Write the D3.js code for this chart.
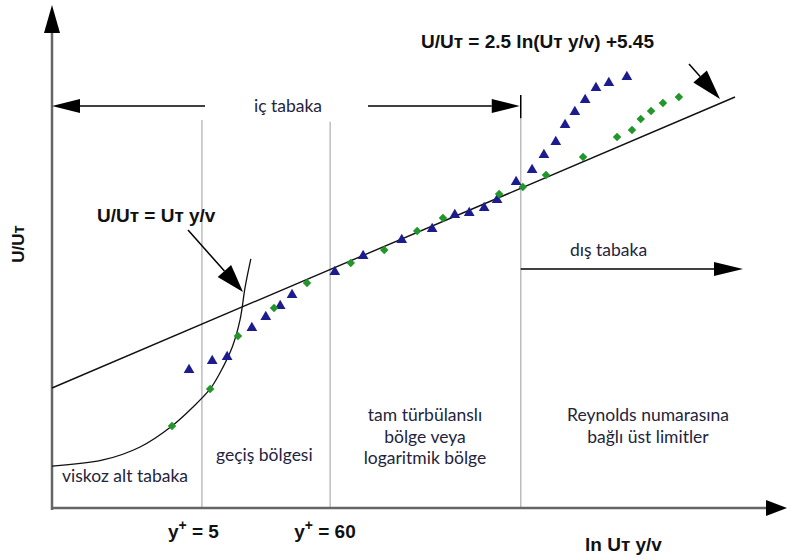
<html lang="tr">
<head>
<meta charset="UTF-8">
<title>Duvar kanunu</title>
<script src="https://cdn.jsdelivr.net/npm/d3@7"></script>
<style>
  body { margin: 0; background: #fff; }
  svg { display: block; }
  .bold { font-family: "Liberation Sans", Arial, sans-serif; font-weight: bold; fill: #111; }
  .zone { font-family: Lato, "Open Sans", sans-serif; fill: #24243c; }
</style>
</head>
<body>
<svg id="chart"></svg>
<script>
// x = ln(U_tau y / v) measured from the axis origin, y = U/U_tau measured from the axis origin
var triX = [2.66, 3.11, 3.40, 3.88, 4.15, 4.43, 4.66, 5.49, 6.04, 6.79, 7.38, 7.82, 8.10, 8.39, 8.64,
            9.01, 9.32, 9.55, 9.78, 9.96, 10.15, 10.35, 10.56, 10.81, 11.16];
var triY = [15.72, 16.75, 17.20, 20.51, 21.76, 23.01, 24.27, 26.89, 28.71, 30.53, 31.78, 33.38, 33.61, 34.18, 35.09,
            37.14, 38.51, 40.21, 41.70, 43.63, 45.11, 46.48, 47.85, 48.42, 49.10];

var diaX = [2.33, 3.07, 3.61, 4.31, 4.95, 5.80, 6.45, 7.09, 7.59, 8.68, 9.14, 9.59, 10.31, 10.97, 11.26,
            11.43, 11.63, 11.86, 12.17];
var diaY = [9.34, 13.56, 19.59, 22.78, 25.63, 27.91, 29.39, 31.56, 33.04, 35.77, 36.57, 37.94, 39.99, 42.26, 43.06,
            44.32, 45.23, 46.14, 46.82];

// log law line U/Ut = 2.5 ln(Ut y/v) + 5.45 (end points)
var logX = [0, 13.26];
var logY = [13.67, 46.82];

// viscous sublayer U/Ut = Ut y/v (as drawn)
var viscX = [0, 0.99, 1.71, 2.33, 2.74, 3.07, 3.26, 3.50, 3.65, 3.75, 3.86];
var viscY = [4.78, 5.47, 6.95, 9.34, 11.51, 13.56, 15.38, 18.34, 21.42, 25.18, 28.37];

// region boundaries
var bounds = [2.91, 5.40, 9.10];
var boundTop = [44.2, 44.0, 44.4];
var boundLabels = ["5", "60", ""];

var width = 787, height = 559;
var svg = d3.select("#chart").attr("width", width).attr("height", height);

var x = d3.scaleLinear().domain([0, 14.23]).range([52, 785]);
var y = d3.scaleLinear().domain([0, 56.73]).range([508, 10]);

function arrow(x1, y1, x2, y2, len, hw, color, sw) {
  var a = Math.atan2(y2 - y1, x2 - x1);
  var bx = x2 - len * Math.cos(a), by = y2 - len * Math.sin(a);
  svg.append("line")
    .attr("x1", x1).attr("y1", y1).attr("x2", bx).attr("y2", by)
    .attr("stroke", color).attr("stroke-width", sw);
  var px = -Math.sin(a) * hw, py = Math.cos(a) * hw;
  svg.append("path")
    .attr("d", "M" + x2 + "," + y2 + "L" + (bx + px) + "," + (by + py) + "L" + (bx - px) + "," + (by - py) + "Z")
    .attr("fill", "#000");
}

/* region boundaries */
bounds.forEach(function(b, i) {
  svg.append("line")
    .attr("x1", x(b)).attr("x2", x(b))
    .attr("y1", y(boundTop[i])).attr("y2", y(0))
    .attr("stroke", "#bdbdbd").attr("stroke-width", 1.5);
  if (boundLabels[i]) {
    var t = svg.append("text").attr("class", "bold").attr("font-size", 19)
      .attr("x", x(b) - 34 - i * 2).attr("y", 538);
    t.append("tspan").text("y");
    t.append("tspan").attr("dy", -8).attr("font-size", 14).text("+");
    t.append("tspan").attr("dy", 8).text(" = " + boundLabels[i]);
  }
});
// black tick of the inner layer limit
svg.append("line")
  .attr("x1", x(bounds[2])).attr("x2", x(bounds[2]))
  .attr("y1", 95).attr("y2", y(boundTop[2]))
  .attr("stroke", "#000").attr("stroke-width", 1.5);

/* axes */
arrow(x(0), y(0) + 2, x(0), 5, 28, 8, "#666", 2.5);
arrow(x(0), y(0), 787, y(0), 21, 8, "#666", 2.5);

/* lines */
var line = d3.line().x(function(d) { return x(d[0]); }).y(function(d) { return y(d[1]); });
svg.append("path")
  .datum(d3.zip(logX, logY))
  .attr("d", line)
  .attr("fill", "none").attr("stroke", "#111").attr("stroke-width", 1.4);
svg.append("path")
  .datum(d3.zip(viscX, viscY))
  .attr("d", line.curve(d3.curveCatmullRom))
  .attr("fill", "none").attr("stroke", "#111").attr("stroke-width", 1.3);

/* markers */
svg.selectAll(".tri")
  .data(d3.zip(triX, triY))
  .enter().append("path")
  .attr("class", "tri")
  .attr("d", d3.symbol().type(d3.symbolTriangle).size(50))
  .attr("transform", function(d) { return "translate(" + x(d[0]) + "," + y(d[1]) + ")"; })
  .attr("fill", "#1c1c8e");
svg.selectAll(".dia")
  .data(d3.zip(diaX, diaY))
  .enter().append("path")
  .attr("class", "dia")
  .attr("d", d3.symbol().type(d3.symbolSquare).size(36))
  .attr("transform", function(d) { return "translate(" + x(d[0]) + "," + y(d[1]) + ") rotate(45)"; })
  .attr("fill", "#21962a");

/* layer arrows */
arrow(205, 106, x(0), 106, 28, 7, "#000", 1.5);
arrow(368, 106, x(bounds[2]) - 1, 106, 28, 7, "#000", 1.5);
arrow(x(bounds[2]), 269, 743, 269, 29, 7, "#000", 1.5);

/* formula arrows */
arrow(689, 64, 720, 99, 30, 9, "#000", 1.5);
arrow(188, 230, 243, 292, 28, 9, "#000", 1.5);

/* texts */
svg.append("text").attr("class", "bold").attr("font-size", 19)
  .attr("x", 421).attr("y", 48).text("U/Uт = 2.5 ln(Uт y/v) +5.45");
svg.append("text").attr("class", "bold").attr("font-size", 19)
  .attr("x", 97).attr("y", 222).text("U/Uт = Uт y/v");
svg.append("text").attr("class", "bold").attr("font-size", 19)
  .attr("x", 585).attr("y", 551).text("ln Uт y/v");
svg.append("text").attr("class", "bold").attr("font-size", 17)
  .attr("text-anchor", "middle")
  .attr("transform", "translate(24,244) rotate(-90)").text("U/Uт");

svg.append("text").attr("class", "zone").attr("font-size", 17.5)
  .attr("x", 288).attr("y", 112).attr("text-anchor", "middle").text("iç tabaka");
svg.append("text").attr("class", "zone").attr("font-size", 17.5)
  .attr("x", 570).attr("y", 256).text("dış tabaka");
svg.append("text").attr("class", "zone").attr("font-size", 17.5)
  .attr("x", 62).attr("y", 482).text("viskoz alt tabaka");
svg.append("text").attr("class", "zone").attr("font-size", 17.5)
  .attr("x", 216).attr("y", 461).text("geçiş bölgesi");

var zone3 = ["tam türbülanslı", "bölge veya", "logaritmik bölge"];
var zone4 = ["Reynolds numarasına", "bağlı üst limitler"];
zone3.forEach(function(s, i) {
  svg.append("text").attr("class", "zone").attr("font-size", 17.5)
    .attr("x", 425).attr("y", 421 + i * 21.5).attr("text-anchor", "middle").text(s);
});
zone4.forEach(function(s, i) {
  svg.append("text").attr("class", "zone").attr("font-size", 17.5)
    .attr("x", 648).attr("y", 421 + i * 21.5).attr("text-anchor", "middle").text(s);
});
</script>
</body>
</html>
